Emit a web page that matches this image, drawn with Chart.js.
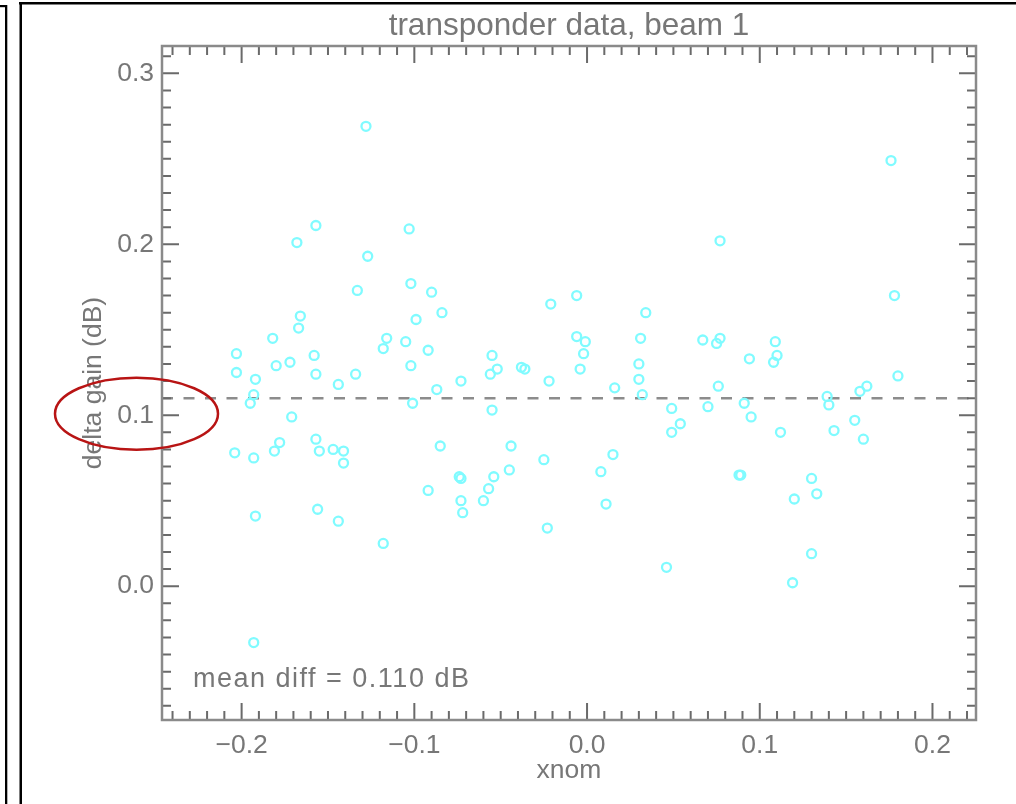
<!DOCTYPE html>
<html>
<head>
<meta charset="utf-8">
<script src="https://cdn.jsdelivr.net/npm/chart.js@4"></script>
<style>
  html, body { margin: 0; padding: 0; background: #fff; }
  canvas { display: block; }
</style>
</head>
<body>
<canvas id="myChart" width="1016" height="804"></canvas>
<script>
  // transponder data, beam 1 : delta gain vs xnom
  const xnom = [
    -0.203, -0.203, -0.193, -0.195, -0.192, -0.204, -0.193, -0.192, -0.193,
    -0.182, -0.180, -0.172, -0.171, -0.178, -0.181, -0.166, -0.167, -0.168,
    -0.158, -0.157, -0.157, -0.157, -0.155, -0.156, -0.147, -0.141, -0.141,
    -0.144, -0.134, -0.133, -0.144, -0.128, -0.127, -0.118, -0.118, -0.116,
    -0.105, -0.103, -0.102, -0.102, -0.101, -0.099, -0.092, -0.090, -0.087,
    -0.084, -0.085, -0.092, -0.073, -0.074, -0.073, -0.073, -0.072, -0.060,
    -0.057, -0.054, -0.055, -0.056, -0.052, -0.055, -0.045, -0.044, -0.038,
    -0.036, -0.025, -0.023, -0.022, -0.021, -0.006, -0.006, -0.001, -0.002,
    -0.004, 0.008, 0.011, 0.015, 0.016, 0.030, 0.030, 0.031, 0.032,
    0.034, 0.046, 0.049, 0.054, 0.049, 0.067, 0.070, 0.075, 0.077,
    0.076, 0.077, 0.088, 0.089, 0.091, 0.094, 0.095, 0.109, 0.110,
    0.108, 0.112, 0.119, 0.120, 0.130, 0.130, 0.133, 0.139, 0.140,
    0.143, 0.155, 0.158, 0.162, 0.160, 0.176, 0.178, 0.180
  ];
  const deltaGain = [
    0.136, 0.125, 0.112, 0.107, 0.121, 0.078, 0.075, 0.041, -0.033,
    0.145, 0.129, 0.131, 0.099, 0.084, 0.079, 0.158, 0.151, 0.201,
    0.135, 0.124, 0.211, 0.086, 0.079, 0.045, 0.080, 0.079, 0.072,
    0.038, 0.124, 0.173, 0.118, 0.269, 0.193, 0.025, 0.139, 0.145,
    0.143, 0.209, 0.177, 0.129, 0.107, 0.156, 0.138, 0.172, 0.115,
    0.160, 0.082, 0.056, 0.120, 0.064, 0.063, 0.050, 0.043, 0.050,
    0.057, 0.064, 0.135, 0.124, 0.127, 0.103, 0.068, 0.082, 0.128,
    0.127, 0.074, 0.034, 0.120, 0.165, 0.170, 0.146, 0.143, 0.136,
    0.127, 0.067, 0.048, 0.077, 0.116, 0.130, 0.121, 0.145, 0.112,
    0.160, 0.011, 0.090, 0.095, 0.104, 0.144, 0.105, 0.142, 0.145,
    0.117, 0.202, 0.065, 0.065, 0.107, 0.133, 0.099, 0.143, 0.135,
    0.131, 0.090, 0.002, 0.051, 0.019, 0.063, 0.054, 0.111, 0.106,
    0.091, 0.097, 0.114, 0.117, 0.086, 0.249, 0.170, 0.123
  ];
  const meanDiff = 0.110;

  const xTicks = [-0.2, -0.1, 0.0, 0.1, 0.2];
  const yTicks = [0.0, 0.1, 0.2, 0.3];
  const xMin = -0.2461, xMax = 0.2252;
  const yMin = -0.0783, yMax = 0.316;

  const textColor = '#777777';
  const fontFamily = '"Liberation Sans", Arial, sans-serif';

  const fmt = v => (v < -1e-9 ? '\u2212' : '') + Math.abs(v).toFixed(1);

  // IDL style box: axis on four sides, inward major/minor ticks, plus the notes
  const boxTicks = {
    id: 'boxTicks',
    afterDatasetsDraw(chart) {
      const ctx = chart.ctx;
      const a = chart.chartArea;
      const x = chart.scales.x;
      const y = chart.scales.y;
      ctx.save();
      ctx.strokeStyle = '#6a6a6a';
      ctx.lineWidth = 2;
      ctx.beginPath();
      for (let i = Math.ceil(xMin * 100); i <= Math.floor(xMax * 100); i++) {
        const px = x.getPixelForValue(i / 100);
        const len = i % 10 === 0 ? 17 : 9;
        ctx.moveTo(px, a.bottom); ctx.lineTo(px, a.bottom - len);
        ctx.moveTo(px, a.top); ctx.lineTo(px, a.top + len);
      }
      for (let i = Math.ceil(yMin * 100); i <= Math.floor(yMax * 100); i++) {
        const py = y.getPixelForValue(i / 100);
        const len = i % 10 === 0 ? 17 : 9;
        ctx.moveTo(a.left, py); ctx.lineTo(a.left + len, py);
        ctx.moveTo(a.right, py); ctx.lineTo(a.right - len, py);
      }
      ctx.stroke();
      ctx.strokeStyle = '#8a8a8a';
      ctx.lineWidth = 2.5;
      ctx.strokeRect(a.left, a.top, a.right - a.left, a.bottom - a.top);

      // label for the mean line
      ctx.fillStyle = textColor;
      ctx.font = '27px ' + fontFamily;
      ctx.textBaseline = 'alphabetic';
      ctx.textAlign = 'left';
      if ('letterSpacing' in ctx) ctx.letterSpacing = '1.5px';
      ctx.fillText('mean diff = 0.110 dB', 193, 687);
      if ('letterSpacing' in ctx) ctx.letterSpacing = '0px';

      // red ring drawn round the 0.1 label
      ctx.strokeStyle = '#b81414';
      ctx.lineWidth = 2.5;
      ctx.beginPath();
      ctx.ellipse(136.5, y.getPixelForValue(0.1) - 1.5, 81.5, 36, 0, 0, Math.PI * 2);
      ctx.stroke();
      ctx.restore();
    },
    afterDraw(chart) {
      const ctx = chart.ctx;
      ctx.save();
      ctx.fillStyle = '#000';
      ctx.fillRect(19, 2, 1016 - 19, 2.5);
      ctx.fillRect(19.5, 2, 2.5, 802);
      ctx.fillRect(0, 5, 7, 2.2);
      ctx.fillRect(5, 5, 2.3, 799);
      ctx.restore();
    }
  };

  const points = xnom.map((v, i) => ({ x: v, y: deltaGain[i] }));

  const data = {
    datasets: [{
      type: 'scatter',
      label: 'transponder',
      data: points,
      pointStyle: 'circle',
      pointRadius: 4.5,
      pointBorderWidth: 2.3,
      borderColor: '#80fbff',
      backgroundColor: 'rgba(0,0,0,0)',
      order: 1
    }, {
      type: 'line',
      label: 'mean diff',
      data: [{ x: xMin, y: meanDiff }, { x: xMax, y: meanDiff }],
      borderColor: '#8c8c8c',
      borderWidth: 2.5,
      borderDash: [11, 10.5],
      pointRadius: 0,
      fill: false,
      order: 2
    }]
  };

  const config = {
    type: 'scatter',
    data: data,
    plugins: [boxTicks],
    options: {
      responsive: false,
      animation: false,
      devicePixelRatio: 1,
      layout: { padding: { left: 0, right: 40, top: 0, bottom: 0 } },
      plugins: {
        legend: { display: false },
        tooltip: { enabled: false },
        title: {
          display: true,
          text: 'transponder data, beam 1',
          color: textColor,
          fullSize: false,
          font: { family: fontFamily, size: 31.5, weight: 'normal', lineHeight: 1.1 },
          padding: { top: 9, bottom: 2.35 }
        }
      },
      scales: {
        x: {
          type: 'linear',
          min: xMin,
          max: xMax,
          afterBuildTicks: s => { s.ticks = xTicks.map(v => ({ value: v })); },
          afterFit: s => { s.height = 84; },
          grid: { display: false, drawTicks: false },
          border: { display: false },
          ticks: {
            color: textColor,
            padding: 10,
            maxRotation: 0,
            font: { family: fontFamily, size: 26.5 },
            callback: v => fmt(v)
          },
          title: {
            display: true,
            text: 'xnom',
            color: textColor,
            font: { family: fontFamily, size: 26.5 },
            padding: { top: 0, bottom: 17 }
          }
        },
        y: {
          type: 'linear',
          min: yMin,
          max: yMax,
          afterBuildTicks: s => { s.ticks = yTicks.map(v => ({ value: v })); },
          afterFit: s => { s.width = 162; },
          grid: { display: false, drawTicks: false },
          border: { display: false },
          ticks: {
            color: textColor,
            padding: 8,
            font: { family: fontFamily, size: 26.5 },
            callback: v => fmt(v)
          },
          title: {
            display: true,
            text: 'delta gain (dB)',
            color: textColor,
            font: { family: fontFamily, size: 26.5 },
            padding: { top: 78, bottom: 0 }
          }
        }
      }
    }
  };

  const myChart = new Chart(
    document.getElementById('myChart'),
    config
  );
</script>
</body>
</html>
